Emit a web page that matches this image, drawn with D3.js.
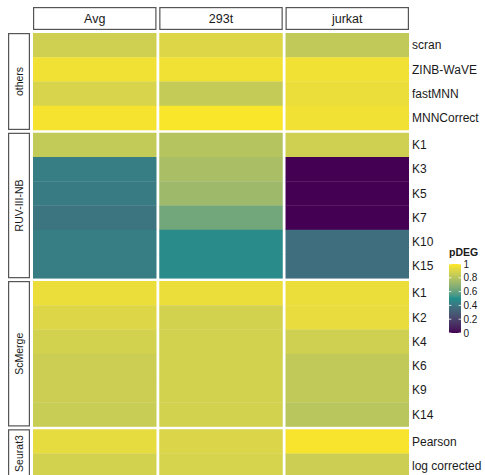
<!DOCTYPE html>
<html>
<head>
<meta charset="utf-8">
<script src="https://cdn.jsdelivr.net/npm/d3@7"></script>
<style>
  html, body { margin: 0; padding: 0; background: #fff; }
  svg { display: block; font-family: "Liberation Sans", Arial, sans-serif; }
</style>
</head>
<body>
<svg id="chart" width="485" height="475"></svg>
<script>
// Samples shown as column facets
const samples = ["Avg", "293t", "jurkat"];

// Method groups (row facets) and the methods inside each one, top to bottom
const groups = ["others", "RUV-III-NB", "ScMerge", "Seurat3"];
const othersMethods = ["scran", "ZINB-WaVE", "fastMNN", "MNNCorrect"];
const ruvMethods = ["K1", "K3", "K5", "K7", "K10", "K15"];
const scMergeMethods = ["K1", "K2", "K4", "K6", "K9", "K14"];
const seuratMethods = ["Pearson", "log corrected"];

// pDEG per method, in the same order as the method lists above
const pdegAvg = {
  "others":     [0.87, 0.965, 0.895, 0.98],
  "RUV-III-NB": [0.835, 0.43, 0.42, 0.39, 0.43, 0.43],
  "ScMerge":    [0.95, 0.91, 0.88, 0.86, 0.86, 0.85],
  "Seurat3":    [0.935, 0.88]
};
const pdeg293t = {
  "others":     [0.91, 0.965, 0.84, 0.99],
  "RUV-III-NB": [0.80, 0.77, 0.74, 0.63, 0.48, 0.48],
  "ScMerge":    [0.95, 0.88, 0.88, 0.88, 0.88, 0.88],
  "Seurat3":    [0.90, 0.89]
};
const pdegJurkat = {
  "others":     [0.83, 0.965, 0.95, 0.965],
  "RUV-III-NB": [0.87, 0.0, 0.0, 0.0, 0.37, 0.37],
  "ScMerge":    [0.95, 0.94, 0.87, 0.83, 0.83, 0.81],
  "Seurat3":    [0.985, 0.86]
};

const legendTicks = [0, 0.2, 0.4, 0.6, 0.8, 1];

const methodsByGroup = {
  "others": othersMethods,
  "RUV-III-NB": ruvMethods,
  "ScMerge": scMergeMethods,
  "Seurat3": seuratMethods
};
const valuesBySample = { "Avg": pdegAvg, "293t": pdeg293t, "jurkat": pdegJurkat };

const svg = d3.select("#chart");

// Layout geometry
const panelLeft = 33, panelRight = 409;
const panelTop = 33;
const rowH = 24.25, panelGap = 2.75;
const stripTop = 7, stripH = 23;
const rowStripLeft = 8, rowStripW = 22;

// Column facets
const xFacet = d3.scaleBand()
  .domain(samples)
  .range([panelLeft, panelRight])
  .paddingInner(2.75 / ((panelRight - panelLeft) / 3));

// Row facets: height proportional to number of methods
const groupY = {};
let yCursor = panelTop;
groups.forEach(g => {
  const n = methodsByGroup[g].length;
  const h = n * rowH;
  groupY[g] = {
    top: yCursor,
    height: h,
    scale: d3.scaleBand().domain(methodsByGroup[g].map((m, i) => i)).range([yCursor, yCursor + h])
  };
  yCursor += h + panelGap;
});

// Colour scale: purple -> teal -> yellow, interpolated in Lab
const color = d3.scaleLinear()
  .domain([0, 0.5, 1])
  .range(["#440154", "#21908C", "#FDE725"])
  .interpolate(d3.interpolateLab);

// Tiles
const tileLayer = svg.append("g");
groups.forEach(g => {
  const gy = groupY[g];
  methodsByGroup[g].forEach((m, i) => {
    samples.forEach(s => {
      const v = valuesBySample[s][g][i];
      tileLayer.append("rect")
        .attr("x", xFacet(s))
        .attr("y", gy.scale(i))
        .attr("width", xFacet.bandwidth())
        .attr("height", gy.scale.bandwidth() + 0.3)
        .attr("fill", color(v));
    });
  });
});

// Column strips
const colStrips = svg.append("g");
samples.forEach(s => {
  colStrips.append("rect")
    .attr("x", xFacet(s) + 0.6)
    .attr("y", stripTop + 0.6)
    .attr("width", xFacet.bandwidth() - 1.2)
    .attr("height", stripH - 1.2)
    .attr("fill", "#fff")
    .attr("stroke", "#555")
    .attr("stroke-width", 1.2);
  colStrips.append("text")
    .attr("x", xFacet(s) + xFacet.bandwidth() / 2)
    .attr("y", stripTop + stripH / 2)
    .attr("dy", "0.35em")
    .attr("text-anchor", "middle")
    .attr("font-size", 12.5)
    .attr("fill", "#1a1a1a")
    .text(s);
});

// Row strips
const rowStrips = svg.append("g");
groups.forEach(g => {
  const gy = groupY[g];
  rowStrips.append("rect")
    .attr("x", rowStripLeft + 0.6)
    .attr("y", gy.top + 0.6)
    .attr("width", rowStripW - 1.2)
    .attr("height", gy.height - 1.2)
    .attr("fill", "#fff")
    .attr("stroke", "#555")
    .attr("stroke-width", 1.2);
  const cx = rowStripLeft + rowStripW / 2;
  const cy = gy.top + gy.height / 2;
  rowStrips.append("text")
    .attr("transform", `translate(${cx},${cy}) rotate(-90)`)
    .attr("dy", "0.35em")
    .attr("text-anchor", "middle")
    .attr("font-size", 10.5)
    .attr("fill", "#1a1a1a")
    .text(g);
});

// Method labels on the right of each row
const labels = svg.append("g");
groups.forEach(g => {
  const gy = groupY[g];
  methodsByGroup[g].forEach((m, i) => {
    labels.append("text")
      .attr("x", panelRight + 3)
      .attr("y", gy.scale(i) + gy.scale.bandwidth() / 2)
      .attr("dy", "0.35em")
      .attr("font-size", 12)
      .attr("fill", "#1a1a1a")
      .text(m);
  });
});

// Colour bar legend
const legendX = 449, legendW = 12;
const legendScale = d3.scaleLinear().domain([0, 1]).range([333, 264]);
const defs = svg.append("defs");
const grad = defs.append("linearGradient")
  .attr("id", "pdeg-grad")
  .attr("x1", 0).attr("y1", 1).attr("x2", 0).attr("y2", 0);
d3.range(0, 1.0001, 0.05).forEach(t => {
  grad.append("stop").attr("offset", t).attr("stop-color", color(t));
});
const legend = svg.append("g");
legend.append("text")
  .attr("x", legendX)
  .attr("y", 256)
  .attr("font-size", 10.5)
  .attr("font-weight", "bold")
  .attr("fill", "#1a1a1a")
  .text("pDEG");
legend.append("rect")
  .attr("x", legendX)
  .attr("y", legendScale(1))
  .attr("width", legendW)
  .attr("height", legendScale(0) - legendScale(1))
  .attr("fill", "url(#pdeg-grad)");
legendTicks.forEach(t => {
  const y = legendScale(t);
  legend.append("line")
    .attr("x1", legendX).attr("x2", legendX + 2.4)
    .attr("y1", y).attr("y2", y)
    .attr("stroke", "#fff").attr("stroke-width", 0.8);
  legend.append("line")
    .attr("x1", legendX + legendW - 2.4).attr("x2", legendX + legendW)
    .attr("y1", y).attr("y2", y)
    .attr("stroke", "#fff").attr("stroke-width", 0.8);
  legend.append("text")
    .attr("x", legendX + legendW + 2.5)
    .attr("y", y)
    .attr("dy", "0.35em")
    .attr("font-size", 10)
    .attr("fill", "#1a1a1a")
    .text(d3.format("~g")(t));
});
</script>
</body>
</html>
